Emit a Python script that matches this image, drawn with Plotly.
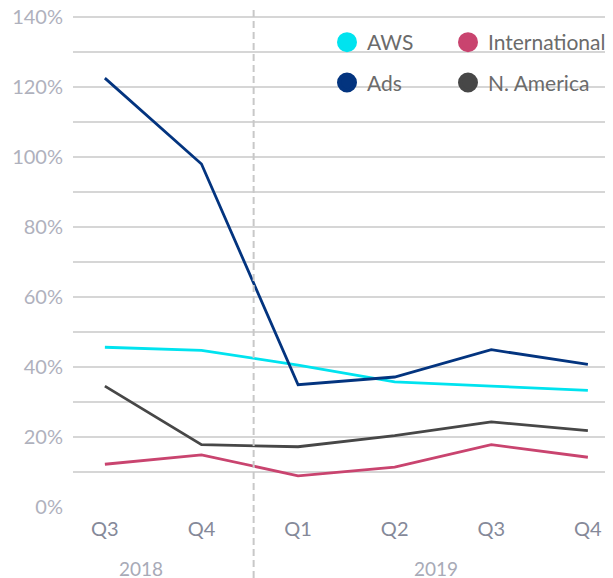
import plotly.graph_objects as go

quarters = ["Q3", "Q4", "Q1", "Q2", "Q3", "Q4"]
years = ["2018", "2019"]
aws = [0.456, 0.447, 0.405, 0.357, 0.345, 0.333]
ads = [1.224, 0.979, 0.349, 0.371, 0.449, 0.407]
intl = [0.122, 0.149, 0.089, 0.114, 0.178, 0.142]
na = [0.345, 0.178, 0.172, 0.204, 0.243, 0.218]
ytick_vals = [0, 0.2, 0.4, 0.6, 0.8, 1.0, 1.2, 1.4]
yminor_vals = [0.1, 0.3, 0.5, 0.7, 0.9, 1.1, 1.3]

series = [
    ("AWS", aws, "#00E3EF", "legend"),
    ("Ads", ads, "#03347F", "legend"),
    ("International", intl, "#C9446F", "legend2"),
    ("N. America", na, "#474747", "legend2"),
]

# page body has an 8px margin: build a slightly smaller figure
OFF = 8
W, H = 613 - OFF, 578 - OFF
L, T, B, R = 73 - OFF, 5, 71, 0
PW, PH = W - L - R, H - T - B

def px2x(sx):  # screen px -> paper x
    return (sx - OFF - L) / PW

def px2y(sy):  # screen px -> paper y
    return (H - B - (sy - OFF)) / PH

xs = list(range(len(quarters)))
fig = go.Figure()
for name, vals, color, lg in series:
    fig.add_trace(go.Scatter(x=xs, y=vals, mode="lines", name=name,
                             line=dict(color=color, width=2.8),
                             showlegend=False, hoverinfo="skip"))
for name, vals, color, lg in series:
    fig.add_trace(go.Scatter(x=[None], y=[None], mode="markers", name=name,
                             legendgroup=name,
                             marker=dict(color=color, size=16, line=dict(color=color, width=4)),
                             legend=lg, showlegend=True))

grid = "#D6D6D6"
legfont = dict(size=21, color="#6B6B6B", family="Lato")
fig.update_layout(
    width=W, height=H,
    margin=dict(l=L, r=R, t=T, b=B, autoexpand=False),
    paper_bgcolor="white", plot_bgcolor="white",
    font=dict(family="Lato", color="#888B9A"),
    xaxis=dict(range=[-0.33, 5.26], tickvals=xs, ticktext=quarters,
               showgrid=False, zeroline=False, showline=False,
               tickfont=dict(size=20, color="#858999", family="Lato"),
               ticks="", ticklabelstandoff=8),
    yaxis=dict(range=[0, 1.41], tickvals=ytick_vals,
               tickformat=".0%", ticklabeloverflow="allow",
               showgrid=True, gridcolor=grid, gridwidth=1.6,
               zeroline=False, showline=False,
               minor=dict(tickvals=yminor_vals,
                          showgrid=True, gridcolor=grid, gridwidth=1.6),
               tickfont=dict(size=20, color="#AFB1BD", family="Lato"),
               ticks="", ticklabelstandoff=9),
    legend=dict(orientation="v", x=px2x(327), y=px2y(62.5), xanchor="left", yanchor="middle",
                bgcolor="rgba(0,0,0,0)", tracegroupgap=10, font=legfont,
                itemclick=False, itemdoubleclick=False),
    legend2=dict(orientation="v", x=px2x(448), y=px2y(62.5), xanchor="left", yanchor="middle",
                 bgcolor="rgba(0,0,0,0)", tracegroupgap=10, font=legfont,
                 itemclick=False, itemdoubleclick=False),
    showlegend=True,
)

# hide gridline segment behind second legend row
fig.add_shape(type="rect", xref="paper", yref="paper", layer="between",
              x0=px2x(302), x1=1.0, y0=px2y(86), y1=px2y(78),
              fillcolor="white", line=dict(width=0))

# year divider
fig.add_shape(type="line", xref="x", yref="paper", x0=1.54, x1=1.54,
              y0=px2y(578), y1=px2y(9),
              line=dict(color="#C8C8C8", width=2, dash="7px,4px"))

year_pos = [0.37, 3.43]
for yr, xp in zip(years, year_pos):
    fig.add_annotation(text=yr, x=xp, xref="x", y=px2y(568), yref="paper",
                       showarrow=False, yanchor="middle",
                       font=dict(size=19, color="#A8AAB7", family="Lato"))

fig.write_html("out.html")
